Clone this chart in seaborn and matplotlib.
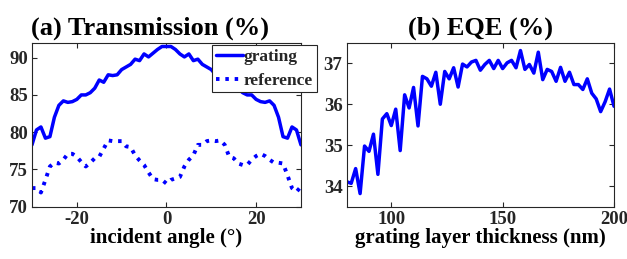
import numpy as np
import pandas as pd
import matplotlib
matplotlib.use("Agg")
import matplotlib.pyplot as plt
import seaborn as sns

# ---- data ----
angles = list(range(-30, 31))
grating = [78.3, 80.3, 80.7, 79.2, 79.4, 82.0, 83.6, 84.2, 84.0, 84.1,
           84.4, 85.0, 85.0, 85.3, 85.9, 87.0, 86.7, 87.7, 87.6, 87.7,
           88.4, 88.75, 89.1, 89.8, 89.6, 90.5, 90.1, 90.6, 91.1, 91.5,
           91.5, 91.5, 91.1, 90.5, 90.1, 90.5, 89.6, 89.8, 89.1, 88.75,
           88.4, 87.7, 87.6, 87.7, 86.7, 87.0, 85.9, 85.3, 85.0, 85.0,
           84.4, 84.1, 84.0, 84.2, 83.6, 82.0, 79.4, 79.2, 80.7, 80.3, 78.3]
reference = [72.5, 72.5, 71.9, 73.6, 75.4, 75.9, 75.8, 76.3, 77.1, 77.1,
             76.7, 76.0, 75.4, 75.9, 76.5, 76.7, 77.8, 78.9, 78.8, 78.8,
             78.8, 78.1, 78.0, 76.9, 76.2, 75.6, 74.6, 73.7, 73.6, 73.6,
             73.1, 73.6, 73.8, 74.0, 75.4, 76.3, 76.9, 78.3, 78.3, 78.8,
             78.9, 78.8, 78.9, 78.3, 76.7, 76.5, 75.8, 75.6, 75.6, 76.3,
             76.8, 77.1, 76.8, 76.3, 75.9, 75.9, 75.8, 74.2, 72.5, 72.0, 72.7]

thickness = list(range(80, 201, 2))
eqe = [34.11, 34.07, 34.43, 33.82, 34.98, 34.85, 35.27, 34.29, 35.64, 35.77,
       35.48, 35.88, 34.87, 36.23, 35.91, 36.41, 35.47, 36.68, 36.62, 36.44,
       36.78, 36.00, 36.80, 36.62, 36.89, 36.42, 36.98, 36.91, 37.03, 37.07,
       36.83, 36.97, 37.07, 36.87, 37.07, 36.87, 37.01, 37.07, 36.89, 37.31,
       36.85, 36.97, 36.76, 37.27, 36.60, 36.85, 36.80, 36.56, 36.90, 36.56,
       36.78, 36.48, 36.48, 36.36, 36.62, 36.27, 36.13, 35.82, 36.06, 36.37, 35.95]

left_xticks = [-20, 0, 20]
left_yticks = [70, 75, 80, 85, 90]
right_xticks = [100, 150, 200]
right_yticks = [34, 35, 36, 37]

sns.set_theme(style="ticks")
plt.rcParams["font.family"] = ["Liberation Serif", "DejaVu Serif"]
plt.rcParams["font.weight"] = "bold"
plt.rcParams["axes.labelweight"] = "bold"
plt.rcParams["axes.titleweight"] = "bold"

gray = "#262626"
blue = (0, 0, 1)

fig = plt.figure(figsize=(6.27, 2.59), dpi=100)
ax1 = fig.add_axes([0.0510, 0.2019, 0.429, 0.633])
ax2 = fig.add_axes([0.553, 0.2019, 0.4263, 0.633])

df1 = pd.DataFrame({"angle": angles, "grating": grating, "reference": reference})
sns.lineplot(data=df1, x="angle", y="grating", ax=ax1, color=blue, lw=2.5,
             label="grating")
sns.lineplot(data=df1, x="angle", y="reference", ax=ax1, color=blue, lw=2.8,
             linestyle=(0, (0.9, 1.5)), label="reference")

df2 = pd.DataFrame({"thickness": thickness, "eqe": eqe})
sns.lineplot(data=df2, x="thickness", y="eqe", ax=ax2, color=blue, lw=2.5)

ax1.set_xlim(-30, 30)
ax1.set_ylim(70, 92)
ax1.set_xticks(left_xticks)
ax1.set_yticks(left_yticks)
ax1.set_xticklabels(["-20", "0", "20"])
ax2.set_xlim(80, 200)
ax2.set_ylim(33.5, 37.5)
ax2.set_xticks(right_xticks)
ax2.set_yticks(right_yticks)

ax1.set_title("(a) Transmission (%)", fontsize=19, fontweight="bold", pad=6,
              color="black", x=0.44)
ax2.set_title("(b) EQE (%)", fontsize=19, fontweight="bold", pad=6, color="black")
ax1.set_xlabel("incident angle (°)", fontsize=15, fontweight="bold", labelpad=0, color="black")
ax2.set_xlabel("grating layer thickness (nm)", fontsize=15, fontweight="bold", labelpad=0, color="black")
ax1.set_ylabel("")
ax2.set_ylabel("")

for ax in (ax1, ax2):
    for s in ax.spines.values():
        s.set_visible(True)
        s.set_color(gray)
        s.set_linewidth(0.8)
    ax.tick_params(direction="in", top=True, right=True, length=3.5, width=0.8,
                   colors=gray, labelsize=13.5, pad=3)
    for lab in ax.get_xticklabels() + ax.get_yticklabels():
        lab.set_fontweight("bold")
        lab.set_color(gray)

leg = ax1.legend(loc="upper left", bbox_to_anchor=(0.669, 0.988), borderaxespad=0,
                 fontsize=12.5, frameon=True, fancybox=False, framealpha=1,
                 edgecolor=gray, handlelength=1.55, handletextpad=0.05,
                 borderpad=0.22, labelspacing=0.45)
leg.get_frame().set_linewidth(0.8)
for t in leg.get_texts():
    t.set_fontweight("bold")

fig.savefig("out.png", dpi=100)
